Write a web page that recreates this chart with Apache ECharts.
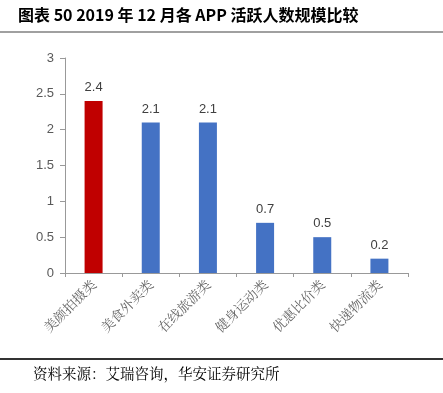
<!DOCTYPE html>
<html><head><meta charset="utf-8">
<script src="https://cdn.jsdelivr.net/npm/echarts@6/dist/echarts.min.js"></script>
<style>html,body{margin:0;padding:0;background:#fff}#c{width:443px;height:393px}</style>
</head><body><div id="c"></div>
<script>
var categories = ['美颜拍摄类','美食外卖类','在线旅游类','健身运动类','优惠比价类','快递物流类'];
var values = [2.4, 2.1, 2.1, 0.7, 0.5, 0.2];
var barColors = ['#C00000','#4472C4','#4472C4','#4472C4','#4472C4','#4472C4'];
var titleText = '图表 50 2019 年 12 月各 APP 活跃人数规模比较';
var sourceText = '资料来源：艾瑞咨询，华安证券研究所';

var chart = echarts.init(document.getElementById('c'), null, {renderer:'canvas'});
chart.setOption({
  animation:false,
  backgroundColor:'#fff',
  grid:{left:65, right:35, top:58, bottom:120, containLabel:false},
  graphic:[
    {type:'text', left:18, top:7, style:{text:titleText, font:'bold 16px "Noto Sans CJK SC", sans-serif', fill:'#000'}},
    {type:'line', shape:{x1:0,y1:32,x2:443,y2:32}, style:{stroke:'#808080', lineWidth:1.5}},
    {type:'line', shape:{x1:0,y1:359,x2:443,y2:359}, style:{stroke:'#333', lineWidth:2}},
    {type:'text', left:33, top:366, style:{text:sourceText, font:'14.5px "Noto Serif CJK SC", "Noto Sans CJK SC", serif', fill:'#000'}}
  ],
  xAxis:{
    type:'category', data:categories, boundaryGap:true,
    axisLine:{lineStyle:{color:'#999', width:1}},
    axisTick:{show:true, length:4, lineStyle:{color:'#999'}},
    axisLabel:{rotate:45, color:'#666', fontSize:13.5, margin:9, interval:0, fontFamily:'"Noto Serif CJK SC","Noto Sans CJK SC",serif'}
  },
  yAxis:{
    type:'value', min:0, max:3, interval:0.5,
    axisLine:{show:true, lineStyle:{color:'#999', width:1}},
    axisTick:{show:true, length:5, lineStyle:{color:'#999'}},
    splitLine:{show:false},
    axisLabel:{color:'#595959', fontSize:13, margin:11, fontFamily:'"Liberation Sans", Arial, sans-serif'}
  },
  series:[{
    type:'bar', barWidth:18,
    data:values.map(function(v,i){return {value:v, itemStyle:{color:barColors[i]}};}),
    label:{show:true, position:'top', distance:7, color:'#404040', fontSize:13, fontFamily:'"Liberation Sans", Arial, sans-serif'}
  }]
});
</script></body></html>
